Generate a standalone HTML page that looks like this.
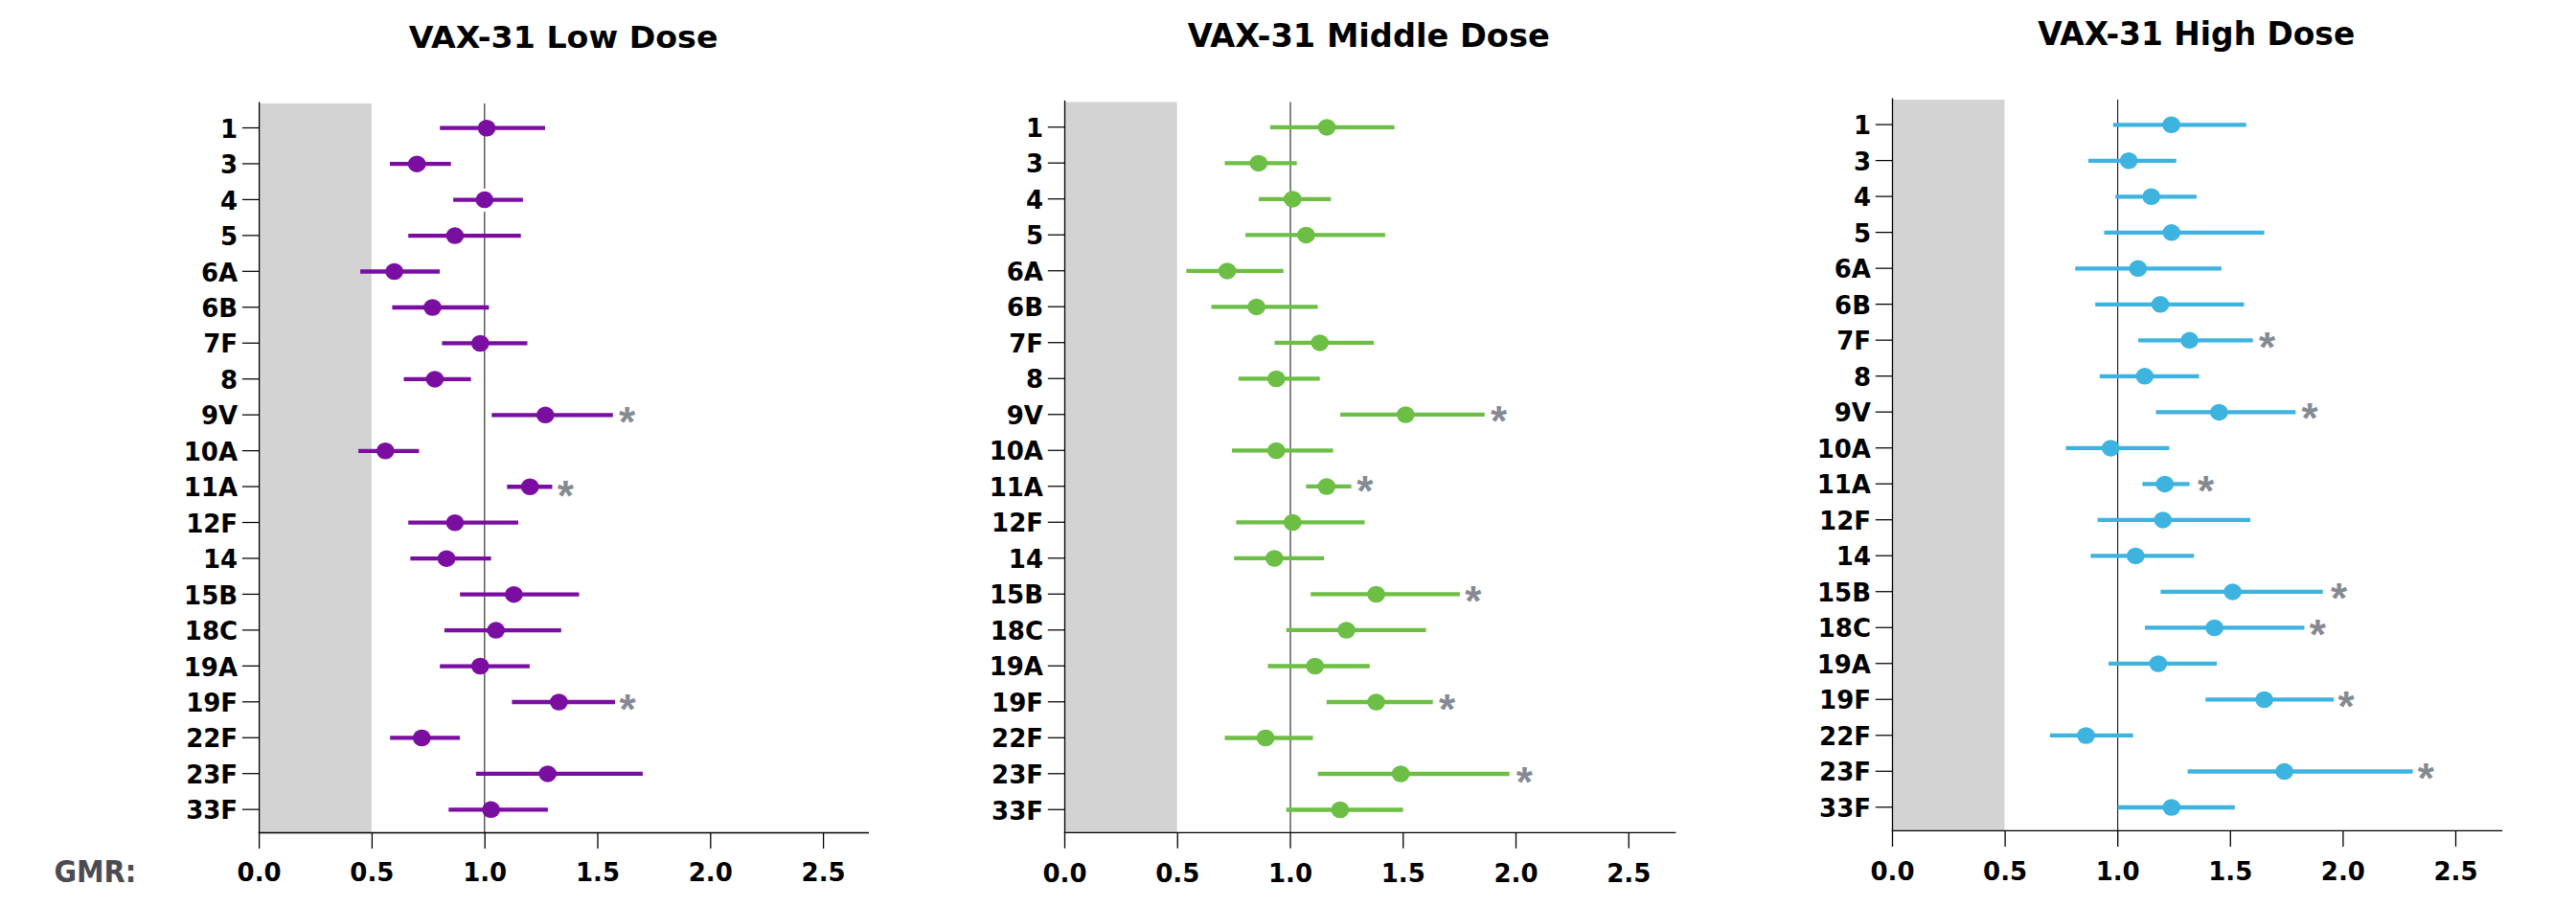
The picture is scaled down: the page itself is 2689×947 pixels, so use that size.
<!DOCTYPE html>
<html lang="en"><head><meta charset="utf-8"><title>VAX-31 GMR forest plots</title>
<style>html,body{margin:0;padding:0;background:#fff}body{width:2689px;height:947px;overflow:hidden}svg{display:block}.lab{font-family:'DejaVu Sans', 'Liberation Sans', sans-serif;font-weight:bold;font-size:26px;fill:#000}.ttl{font-family:'DejaVu Sans', 'Liberation Sans', sans-serif;font-weight:bold;font-size:32.5px;fill:#000}.star{font-family:'Liberation Sans', sans-serif;font-weight:bold;font-size:44px;fill:#858a92}.gmr{font-family:'DejaVu Sans', 'Liberation Sans', sans-serif;font-weight:bold;font-size:31.6px;fill:#4b4b53}</style></head><body>
<svg width="2689" height="947" viewBox="0 0 2689 947">
<rect x="0" y="0" width="2689" height="947" fill="#ffffff"/>
<g>
<text class="ttl" style="font-size:32.4px" x="588.05" y="49.8" text-anchor="middle" textLength="322.8" lengthAdjust="spacingAndGlyphs">VAX-31 Low Dose</text>
<rect x="270.6" y="108" width="117.2" height="761.5" fill="#d3d3d3"/>
<line x1="505.75" y1="108" x2="505.75" y2="869.5" stroke="#5b5b5b" stroke-width="1.5"/>
<rect x="503" y="196.9" width="5" height="24.2" fill="#fff"/>
<g stroke="#000" stroke-width="1.3" fill="none">
<line x1="270.6" y1="106.5" x2="270.6" y2="886"/>
<line x1="269.8" y1="869.5" x2="907.02" y2="869.5"/>
<line x1="388.4" y1="869.5" x2="388.4" y2="886"/>
<line x1="506.2" y1="869.5" x2="506.2" y2="886"/>
<line x1="624" y1="869.5" x2="624" y2="886"/>
<line x1="741.8" y1="869.5" x2="741.8" y2="886"/>
<line x1="859.6" y1="869.5" x2="859.6" y2="886"/>
<line x1="252.9" y1="133.5" x2="270.6" y2="133.5" stroke-width="1.25"/>
<line x1="252.9" y1="170.96" x2="270.6" y2="170.96" stroke-width="1.25"/>
<line x1="252.9" y1="208.41" x2="270.6" y2="208.41" stroke-width="1.25"/>
<line x1="252.9" y1="245.87" x2="270.6" y2="245.87" stroke-width="1.25"/>
<line x1="252.9" y1="283.32" x2="270.6" y2="283.32" stroke-width="1.25"/>
<line x1="252.9" y1="320.78" x2="270.6" y2="320.78" stroke-width="1.25"/>
<line x1="252.9" y1="358.24" x2="270.6" y2="358.24" stroke-width="1.25"/>
<line x1="252.9" y1="395.69" x2="270.6" y2="395.69" stroke-width="1.25"/>
<line x1="252.9" y1="433.15" x2="270.6" y2="433.15" stroke-width="1.25"/>
<line x1="252.9" y1="470.6" x2="270.6" y2="470.6" stroke-width="1.25"/>
<line x1="252.9" y1="508.06" x2="270.6" y2="508.06" stroke-width="1.25"/>
<line x1="252.9" y1="545.52" x2="270.6" y2="545.52" stroke-width="1.25"/>
<line x1="252.9" y1="582.97" x2="270.6" y2="582.97" stroke-width="1.25"/>
<line x1="252.9" y1="620.43" x2="270.6" y2="620.43" stroke-width="1.25"/>
<line x1="252.9" y1="657.88" x2="270.6" y2="657.88" stroke-width="1.25"/>
<line x1="252.9" y1="695.34" x2="270.6" y2="695.34" stroke-width="1.25"/>
<line x1="252.9" y1="732.8" x2="270.6" y2="732.8" stroke-width="1.25"/>
<line x1="252.9" y1="770.25" x2="270.6" y2="770.25" stroke-width="1.25"/>
<line x1="252.9" y1="807.71" x2="270.6" y2="807.71" stroke-width="1.25"/>
<line x1="252.9" y1="845.16" x2="270.6" y2="845.16" stroke-width="1.25"/>
</g>
<text class="lab" x="248.1" y="143.7" text-anchor="end">1</text>
<text class="lab" x="248.1" y="181.16" text-anchor="end">3</text>
<text class="lab" x="248.1" y="218.61" text-anchor="end">4</text>
<text class="lab" x="248.1" y="256.07" text-anchor="end">5</text>
<text class="lab" x="248.1" y="293.52" text-anchor="end">6A</text>
<text class="lab" x="248.1" y="330.98" text-anchor="end">6B</text>
<text class="lab" x="248.1" y="368.44" text-anchor="end">7F</text>
<text class="lab" x="248.1" y="405.89" text-anchor="end">8</text>
<text class="lab" x="248.1" y="443.35" text-anchor="end">9V</text>
<text class="lab" x="248.1" y="480.8" text-anchor="end">10A</text>
<text class="lab" x="248.1" y="518.26" text-anchor="end">11A</text>
<text class="lab" x="248.1" y="555.72" text-anchor="end">12F</text>
<text class="lab" x="248.1" y="593.17" text-anchor="end">14</text>
<text class="lab" x="248.1" y="630.63" text-anchor="end">15B</text>
<text class="lab" x="248.1" y="668.08" text-anchor="end">18C</text>
<text class="lab" x="248.1" y="705.54" text-anchor="end">19A</text>
<text class="lab" x="248.1" y="743" text-anchor="end">19F</text>
<text class="lab" x="248.1" y="780.45" text-anchor="end">22F</text>
<text class="lab" x="248.1" y="817.91" text-anchor="end">23F</text>
<text class="lab" x="248.1" y="855.36" text-anchor="end">33F</text>
<text class="lab" x="270.6" y="920.2" text-anchor="middle">0.0</text>
<text class="lab" x="388.4" y="920.2" text-anchor="middle">0.5</text>
<text class="lab" x="506.2" y="920.2" text-anchor="middle">1.0</text>
<text class="lab" x="624" y="920.2" text-anchor="middle">1.5</text>
<text class="lab" x="741.8" y="920.2" text-anchor="middle">2.0</text>
<text class="lab" x="859.6" y="920.2" text-anchor="middle">2.5</text>
<g stroke="#7a0ea0" stroke-width="4.3" fill="#7a0ea0">
<line x1="459.2" y1="133.7" x2="569" y2="133.7"/><ellipse cx="508" cy="133.7" rx="9.35" ry="8.75" stroke="none"/>
<line x1="407" y1="171.16" x2="470.7" y2="171.16"/><ellipse cx="435.2" cy="171.16" rx="9.35" ry="8.75" stroke="none"/>
<line x1="473.1" y1="208.61" x2="545.9" y2="208.61"/><ellipse cx="505.8" cy="208.61" rx="9.35" ry="8.75" stroke="none"/>
<line x1="426.2" y1="246.07" x2="543.7" y2="246.07"/><ellipse cx="474.9" cy="246.07" rx="9.35" ry="8.75" stroke="none"/>
<line x1="376.1" y1="283.52" x2="459" y2="283.52"/><ellipse cx="411.6" cy="283.52" rx="9.35" ry="8.75" stroke="none"/>
<line x1="409.4" y1="320.98" x2="510.4" y2="320.98"/><ellipse cx="451.5" cy="320.98" rx="9.35" ry="8.75" stroke="none"/>
<line x1="461.4" y1="358.44" x2="550.5" y2="358.44"/><ellipse cx="501.3" cy="358.44" rx="9.35" ry="8.75" stroke="none"/>
<line x1="421.5" y1="395.89" x2="491.6" y2="395.89"/><ellipse cx="453.9" cy="395.89" rx="9.35" ry="8.75" stroke="none"/>
<line x1="513.3" y1="433.35" x2="639.8" y2="433.35"/><ellipse cx="569.3" cy="433.35" rx="9.35" ry="8.75" stroke="none"/>
<line x1="374.1" y1="470.8" x2="437.4" y2="470.8"/><ellipse cx="402.3" cy="470.8" rx="9.35" ry="8.75" stroke="none"/>
<line x1="529.3" y1="508.26" x2="576.5" y2="508.26"/><ellipse cx="553.2" cy="508.26" rx="9.35" ry="8.75" stroke="none"/>
<line x1="426.2" y1="545.72" x2="541" y2="545.72"/><ellipse cx="474.9" cy="545.72" rx="9.35" ry="8.75" stroke="none"/>
<line x1="428.4" y1="583.17" x2="512.6" y2="583.17"/><ellipse cx="466.1" cy="583.17" rx="9.35" ry="8.75" stroke="none"/>
<line x1="480.2" y1="620.63" x2="604.5" y2="620.63"/><ellipse cx="536.4" cy="620.63" rx="9.35" ry="8.75" stroke="none"/>
<line x1="463.9" y1="658.08" x2="585.8" y2="658.08"/><ellipse cx="517.7" cy="658.08" rx="9.35" ry="8.75" stroke="none"/>
<line x1="459.2" y1="695.54" x2="552.9" y2="695.54"/><ellipse cx="501.3" cy="695.54" rx="9.35" ry="8.75" stroke="none"/>
<line x1="534.4" y1="733" x2="642" y2="733"/><ellipse cx="583.4" cy="733" rx="9.35" ry="8.75" stroke="none"/>
<line x1="407.2" y1="770.45" x2="480" y2="770.45"/><ellipse cx="440.3" cy="770.45" rx="9.35" ry="8.75" stroke="none"/>
<line x1="496.9" y1="807.91" x2="670.9" y2="807.91"/><ellipse cx="571.7" cy="807.91" rx="9.35" ry="8.75" stroke="none"/>
<line x1="468.3" y1="845.36" x2="571.9" y2="845.36"/><ellipse cx="512.6" cy="845.36" rx="9.35" ry="8.75" stroke="none"/>
</g>
<text class="star" x="654.6" y="456.3" text-anchor="middle">*</text>
<text class="star" x="590.4" y="533.2" text-anchor="middle">*</text>
<text class="star" x="655" y="756.3" text-anchor="middle">*</text>
</g>
<g>
<text class="ttl" style="font-size:33.7px" x="1428.7" y="48.8" text-anchor="middle" textLength="378.1" lengthAdjust="spacingAndGlyphs">VAX-31 Middle Dose</text>
<rect x="1111.5" y="106.5" width="117.15" height="762.8" fill="#d3d3d3"/>
<line x1="1347" y1="106.5" x2="1347" y2="869.3" stroke="#5b5b5b" stroke-width="1.5"/>
<g stroke="#000" stroke-width="1.3" fill="none">
<line x1="1111.5" y1="105" x2="1111.5" y2="885.8"/>
<line x1="1110.7" y1="869.3" x2="1749.35" y2="869.3"/>
<line x1="1229.25" y1="869.3" x2="1229.25" y2="885.8"/>
<line x1="1347" y1="869.3" x2="1347" y2="885.8"/>
<line x1="1464.75" y1="869.3" x2="1464.75" y2="885.8"/>
<line x1="1582.5" y1="869.3" x2="1582.5" y2="885.8"/>
<line x1="1700.25" y1="869.3" x2="1700.25" y2="885.8"/>
<line x1="1093.8" y1="132.7" x2="1111.5" y2="132.7" stroke-width="1.25"/>
<line x1="1093.8" y1="170.21" x2="1111.5" y2="170.21" stroke-width="1.25"/>
<line x1="1093.8" y1="207.71" x2="1111.5" y2="207.71" stroke-width="1.25"/>
<line x1="1093.8" y1="245.22" x2="1111.5" y2="245.22" stroke-width="1.25"/>
<line x1="1093.8" y1="282.72" x2="1111.5" y2="282.72" stroke-width="1.25"/>
<line x1="1093.8" y1="320.23" x2="1111.5" y2="320.23" stroke-width="1.25"/>
<line x1="1093.8" y1="357.73" x2="1111.5" y2="357.73" stroke-width="1.25"/>
<line x1="1093.8" y1="395.24" x2="1111.5" y2="395.24" stroke-width="1.25"/>
<line x1="1093.8" y1="432.74" x2="1111.5" y2="432.74" stroke-width="1.25"/>
<line x1="1093.8" y1="470.25" x2="1111.5" y2="470.25" stroke-width="1.25"/>
<line x1="1093.8" y1="507.75" x2="1111.5" y2="507.75" stroke-width="1.25"/>
<line x1="1093.8" y1="545.25" x2="1111.5" y2="545.25" stroke-width="1.25"/>
<line x1="1093.8" y1="582.76" x2="1111.5" y2="582.76" stroke-width="1.25"/>
<line x1="1093.8" y1="620.26" x2="1111.5" y2="620.26" stroke-width="1.25"/>
<line x1="1093.8" y1="657.77" x2="1111.5" y2="657.77" stroke-width="1.25"/>
<line x1="1093.8" y1="695.27" x2="1111.5" y2="695.27" stroke-width="1.25"/>
<line x1="1093.8" y1="732.78" x2="1111.5" y2="732.78" stroke-width="1.25"/>
<line x1="1093.8" y1="770.28" x2="1111.5" y2="770.28" stroke-width="1.25"/>
<line x1="1093.8" y1="807.79" x2="1111.5" y2="807.79" stroke-width="1.25"/>
<line x1="1093.8" y1="845.29" x2="1111.5" y2="845.29" stroke-width="1.25"/>
</g>
<text class="lab" x="1089" y="142.9" text-anchor="end">1</text>
<text class="lab" x="1089" y="180.41" text-anchor="end">3</text>
<text class="lab" x="1089" y="217.91" text-anchor="end">4</text>
<text class="lab" x="1089" y="255.42" text-anchor="end">5</text>
<text class="lab" x="1089" y="292.92" text-anchor="end">6A</text>
<text class="lab" x="1089" y="330.43" text-anchor="end">6B</text>
<text class="lab" x="1089" y="367.93" text-anchor="end">7F</text>
<text class="lab" x="1089" y="405.44" text-anchor="end">8</text>
<text class="lab" x="1089" y="442.94" text-anchor="end">9V</text>
<text class="lab" x="1089" y="480.45" text-anchor="end">10A</text>
<text class="lab" x="1089" y="517.95" text-anchor="end">11A</text>
<text class="lab" x="1089" y="555.46" text-anchor="end">12F</text>
<text class="lab" x="1089" y="592.96" text-anchor="end">14</text>
<text class="lab" x="1089" y="630.47" text-anchor="end">15B</text>
<text class="lab" x="1089" y="667.97" text-anchor="end">18C</text>
<text class="lab" x="1089" y="705.48" text-anchor="end">19A</text>
<text class="lab" x="1089" y="742.98" text-anchor="end">19F</text>
<text class="lab" x="1089" y="780.49" text-anchor="end">22F</text>
<text class="lab" x="1089" y="817.99" text-anchor="end">23F</text>
<text class="lab" x="1089" y="855.5" text-anchor="end">33F</text>
<text class="lab" x="1111.5" y="920.9" text-anchor="middle">0.0</text>
<text class="lab" x="1229.25" y="920.9" text-anchor="middle">0.5</text>
<text class="lab" x="1347" y="920.9" text-anchor="middle">1.0</text>
<text class="lab" x="1464.75" y="920.9" text-anchor="middle">1.5</text>
<text class="lab" x="1582.5" y="920.9" text-anchor="middle">2.0</text>
<text class="lab" x="1700.25" y="920.9" text-anchor="middle">2.5</text>
<g stroke="#6cbe45" stroke-width="4.3" fill="#6cbe45">
<line x1="1325.9" y1="132.9" x2="1455.6" y2="132.9"/><ellipse cx="1385" cy="132.9" rx="9.35" ry="8.75" stroke="none"/>
<line x1="1278.5" y1="170.41" x2="1353.7" y2="170.41"/><ellipse cx="1313.8" cy="170.41" rx="9.35" ry="8.75" stroke="none"/>
<line x1="1314" y1="207.91" x2="1389.2" y2="207.91"/><ellipse cx="1349.3" cy="207.91" rx="9.35" ry="8.75" stroke="none"/>
<line x1="1300.1" y1="245.42" x2="1445.9" y2="245.42"/><ellipse cx="1363.4" cy="245.42" rx="9.35" ry="8.75" stroke="none"/>
<line x1="1238.4" y1="282.92" x2="1339.8" y2="282.92"/><ellipse cx="1281.1" cy="282.92" rx="9.35" ry="8.75" stroke="none"/>
<line x1="1264.6" y1="320.43" x2="1375.5" y2="320.43"/><ellipse cx="1311.6" cy="320.43" rx="9.35" ry="8.75" stroke="none"/>
<line x1="1330.5" y1="357.93" x2="1434.2" y2="357.93"/><ellipse cx="1377.7" cy="357.93" rx="9.35" ry="8.75" stroke="none"/>
<line x1="1292.8" y1="395.44" x2="1377.7" y2="395.44"/><ellipse cx="1332.3" cy="395.44" rx="9.35" ry="8.75" stroke="none"/>
<line x1="1399.1" y1="432.94" x2="1549.7" y2="432.94"/><ellipse cx="1467.3" cy="432.94" rx="9.35" ry="8.75" stroke="none"/>
<line x1="1286" y1="470.45" x2="1391.6" y2="470.45"/><ellipse cx="1332.3" cy="470.45" rx="9.35" ry="8.75" stroke="none"/>
<line x1="1363.4" y1="507.95" x2="1410.6" y2="507.95"/><ellipse cx="1384.8" cy="507.95" rx="9.35" ry="8.75" stroke="none"/>
<line x1="1290.4" y1="545.46" x2="1424.5" y2="545.46"/><ellipse cx="1349.3" cy="545.46" rx="9.35" ry="8.75" stroke="none"/>
<line x1="1288.2" y1="582.96" x2="1382.1" y2="582.96"/><ellipse cx="1330.3" cy="582.96" rx="9.35" ry="8.75" stroke="none"/>
<line x1="1368.2" y1="620.47" x2="1523.9" y2="620.47"/><ellipse cx="1436.6" cy="620.47" rx="9.35" ry="8.75" stroke="none"/>
<line x1="1342.7" y1="657.97" x2="1488.6" y2="657.97"/><ellipse cx="1405.5" cy="657.97" rx="9.35" ry="8.75" stroke="none"/>
<line x1="1323.5" y1="695.48" x2="1429.8" y2="695.48"/><ellipse cx="1372.7" cy="695.48" rx="9.35" ry="8.75" stroke="none"/>
<line x1="1384.8" y1="732.98" x2="1495.7" y2="732.98"/><ellipse cx="1436.6" cy="732.98" rx="9.35" ry="8.75" stroke="none"/>
<line x1="1278.5" y1="770.49" x2="1370.5" y2="770.49"/><ellipse cx="1321.1" cy="770.49" rx="9.35" ry="8.75" stroke="none"/>
<line x1="1375.7" y1="807.99" x2="1575.7" y2="807.99"/><ellipse cx="1462.2" cy="807.99" rx="9.35" ry="8.75" stroke="none"/>
<line x1="1342.7" y1="845.5" x2="1464.6" y2="845.5"/><ellipse cx="1398.9" cy="845.5" rx="9.35" ry="8.75" stroke="none"/>
</g>
<text class="star" x="1564.6" y="455.2" text-anchor="middle">*</text>
<text class="star" x="1424.9" y="528.4" text-anchor="middle">*</text>
<text class="star" x="1537.7" y="642.6" text-anchor="middle">*</text>
<text class="star" x="1510.6" y="755.8" text-anchor="middle">*</text>
<text class="star" x="1591.4" y="831.9" text-anchor="middle">*</text>
</g>
<g>
<text class="ttl" style="font-size:34.4px" x="2292.7" y="46.7" text-anchor="middle" textLength="331.1" lengthAdjust="spacingAndGlyphs">VAX-31 High Dose</text>
<rect x="1975.5" y="104.1" width="117" height="763.3" fill="#d3d3d3"/>
<line x1="2210.6" y1="104.1" x2="2210.6" y2="867.4" stroke="#1e1e1e" stroke-width="1.15"/>
<g stroke="#000" stroke-width="1.3" fill="none">
<line x1="1975.5" y1="102.6" x2="1975.5" y2="883.9"/>
<line x1="1974.7" y1="867.4" x2="2612.14" y2="867.4"/>
<line x1="2093.1" y1="867.4" x2="2093.1" y2="883.9"/>
<line x1="2210.7" y1="867.4" x2="2210.7" y2="883.9"/>
<line x1="2328.3" y1="867.4" x2="2328.3" y2="883.9"/>
<line x1="2445.9" y1="867.4" x2="2445.9" y2="883.9"/>
<line x1="2563.5" y1="867.4" x2="2563.5" y2="883.9"/>
<line x1="1957.8" y1="130.1" x2="1975.5" y2="130.1" stroke-width="1.25"/>
<line x1="1957.8" y1="167.61" x2="1975.5" y2="167.61" stroke-width="1.25"/>
<line x1="1957.8" y1="205.12" x2="1975.5" y2="205.12" stroke-width="1.25"/>
<line x1="1957.8" y1="242.63" x2="1975.5" y2="242.63" stroke-width="1.25"/>
<line x1="1957.8" y1="280.14" x2="1975.5" y2="280.14" stroke-width="1.25"/>
<line x1="1957.8" y1="317.65" x2="1975.5" y2="317.65" stroke-width="1.25"/>
<line x1="1957.8" y1="355.16" x2="1975.5" y2="355.16" stroke-width="1.25"/>
<line x1="1957.8" y1="392.67" x2="1975.5" y2="392.67" stroke-width="1.25"/>
<line x1="1957.8" y1="430.18" x2="1975.5" y2="430.18" stroke-width="1.25"/>
<line x1="1957.8" y1="467.69" x2="1975.5" y2="467.69" stroke-width="1.25"/>
<line x1="1957.8" y1="505.2" x2="1975.5" y2="505.2" stroke-width="1.25"/>
<line x1="1957.8" y1="542.71" x2="1975.5" y2="542.71" stroke-width="1.25"/>
<line x1="1957.8" y1="580.22" x2="1975.5" y2="580.22" stroke-width="1.25"/>
<line x1="1957.8" y1="617.73" x2="1975.5" y2="617.73" stroke-width="1.25"/>
<line x1="1957.8" y1="655.24" x2="1975.5" y2="655.24" stroke-width="1.25"/>
<line x1="1957.8" y1="692.75" x2="1975.5" y2="692.75" stroke-width="1.25"/>
<line x1="1957.8" y1="730.26" x2="1975.5" y2="730.26" stroke-width="1.25"/>
<line x1="1957.8" y1="767.77" x2="1975.5" y2="767.77" stroke-width="1.25"/>
<line x1="1957.8" y1="805.28" x2="1975.5" y2="805.28" stroke-width="1.25"/>
<line x1="1957.8" y1="842.79" x2="1975.5" y2="842.79" stroke-width="1.25"/>
</g>
<text class="lab" x="1953" y="140.3" text-anchor="end">1</text>
<text class="lab" x="1953" y="177.81" text-anchor="end">3</text>
<text class="lab" x="1953" y="215.32" text-anchor="end">4</text>
<text class="lab" x="1953" y="252.83" text-anchor="end">5</text>
<text class="lab" x="1953" y="290.34" text-anchor="end">6A</text>
<text class="lab" x="1953" y="327.85" text-anchor="end">6B</text>
<text class="lab" x="1953" y="365.36" text-anchor="end">7F</text>
<text class="lab" x="1953" y="402.87" text-anchor="end">8</text>
<text class="lab" x="1953" y="440.38" text-anchor="end">9V</text>
<text class="lab" x="1953" y="477.89" text-anchor="end">10A</text>
<text class="lab" x="1953" y="515.4" text-anchor="end">11A</text>
<text class="lab" x="1953" y="552.91" text-anchor="end">12F</text>
<text class="lab" x="1953" y="590.42" text-anchor="end">14</text>
<text class="lab" x="1953" y="627.93" text-anchor="end">15B</text>
<text class="lab" x="1953" y="665.44" text-anchor="end">18C</text>
<text class="lab" x="1953" y="702.95" text-anchor="end">19A</text>
<text class="lab" x="1953" y="740.46" text-anchor="end">19F</text>
<text class="lab" x="1953" y="777.97" text-anchor="end">22F</text>
<text class="lab" x="1953" y="815.48" text-anchor="end">23F</text>
<text class="lab" x="1953" y="852.99" text-anchor="end">33F</text>
<text class="lab" x="1975.5" y="919.1" text-anchor="middle">0.0</text>
<text class="lab" x="2093.1" y="919.1" text-anchor="middle">0.5</text>
<text class="lab" x="2210.7" y="919.1" text-anchor="middle">1.0</text>
<text class="lab" x="2328.3" y="919.1" text-anchor="middle">1.5</text>
<text class="lab" x="2445.9" y="919.1" text-anchor="middle">2.0</text>
<text class="lab" x="2563.5" y="919.1" text-anchor="middle">2.5</text>
<g stroke="#3db3e0" stroke-width="4.3" fill="#3db3e0">
<line x1="2205.8" y1="130.3" x2="2344.7" y2="130.3"/><ellipse cx="2266.6" cy="130.3" rx="9.35" ry="8.75" stroke="none"/>
<line x1="2180" y1="167.81" x2="2271.7" y2="167.81"/><ellipse cx="2222.1" cy="167.81" rx="9.35" ry="8.75" stroke="none"/>
<line x1="2208.2" y1="205.32" x2="2292.9" y2="205.32"/><ellipse cx="2245.7" cy="205.32" rx="9.35" ry="8.75" stroke="none"/>
<line x1="2196.5" y1="242.83" x2="2363.6" y2="242.83"/><ellipse cx="2266.8" cy="242.83" rx="9.35" ry="8.75" stroke="none"/>
<line x1="2166.3" y1="280.34" x2="2318.9" y2="280.34"/><ellipse cx="2231.8" cy="280.34" rx="9.35" ry="8.75" stroke="none"/>
<line x1="2187.2" y1="317.85" x2="2342.5" y2="317.85"/><ellipse cx="2255.1" cy="317.85" rx="9.35" ry="8.75" stroke="none"/>
<line x1="2232" y1="355.36" x2="2351.7" y2="355.36"/><ellipse cx="2285.6" cy="355.36" rx="9.35" ry="8.75" stroke="none"/>
<line x1="2191.9" y1="392.87" x2="2295.5" y2="392.87"/><ellipse cx="2238.8" cy="392.87" rx="9.35" ry="8.75" stroke="none"/>
<line x1="2250.5" y1="430.38" x2="2396.3" y2="430.38"/><ellipse cx="2316.4" cy="430.38" rx="9.35" ry="8.75" stroke="none"/>
<line x1="2156.6" y1="467.89" x2="2264.4" y2="467.89"/><ellipse cx="2203.3" cy="467.89" rx="9.35" ry="8.75" stroke="none"/>
<line x1="2236.4" y1="505.4" x2="2285.6" y2="505.4"/><ellipse cx="2259.8" cy="505.4" rx="9.35" ry="8.75" stroke="none"/>
<line x1="2189.7" y1="542.91" x2="2349.1" y2="542.91"/><ellipse cx="2257.8" cy="542.91" rx="9.35" ry="8.75" stroke="none"/>
<line x1="2182.4" y1="580.42" x2="2290.2" y2="580.42"/><ellipse cx="2229.3" cy="580.42" rx="9.35" ry="8.75" stroke="none"/>
<line x1="2255.4" y1="617.93" x2="2424.7" y2="617.93"/><ellipse cx="2330.6" cy="617.93" rx="9.35" ry="8.75" stroke="none"/>
<line x1="2239" y1="655.44" x2="2405.5" y2="655.44"/><ellipse cx="2311.6" cy="655.44" rx="9.35" ry="8.75" stroke="none"/>
<line x1="2201.1" y1="692.95" x2="2314" y2="692.95"/><ellipse cx="2252.9" cy="692.95" rx="9.35" ry="8.75" stroke="none"/>
<line x1="2302.3" y1="730.46" x2="2436.2" y2="730.46"/><ellipse cx="2363.6" cy="730.46" rx="9.35" ry="8.75" stroke="none"/>
<line x1="2140" y1="767.97" x2="2226.7" y2="767.97"/><ellipse cx="2177.5" cy="767.97" rx="9.35" ry="8.75" stroke="none"/>
<line x1="2283.6" y1="805.48" x2="2518.7" y2="805.48"/><ellipse cx="2384.6" cy="805.48" rx="9.35" ry="8.75" stroke="none"/>
<line x1="2210.6" y1="842.99" x2="2332.8" y2="842.99"/><ellipse cx="2266.8" cy="842.99" rx="9.35" ry="8.75" stroke="none"/>
</g>
<text class="star" x="2366.6" y="378.1" text-anchor="middle">*</text>
<text class="star" x="2411" y="452.4" text-anchor="middle">*</text>
<text class="star" x="2302.5" y="528.4" text-anchor="middle">*</text>
<text class="star" x="2441.5" y="640.2" text-anchor="middle">*</text>
<text class="star" x="2419.2" y="677.7" text-anchor="middle">*</text>
<text class="star" x="2449" y="753" text-anchor="middle">*</text>
<text class="star" x="2532.2" y="828" text-anchor="middle">*</text>
</g>
<text class="gmr" x="56.4" y="920.6" textLength="85.8" lengthAdjust="spacingAndGlyphs">GMR:</text>
</svg></body></html>
